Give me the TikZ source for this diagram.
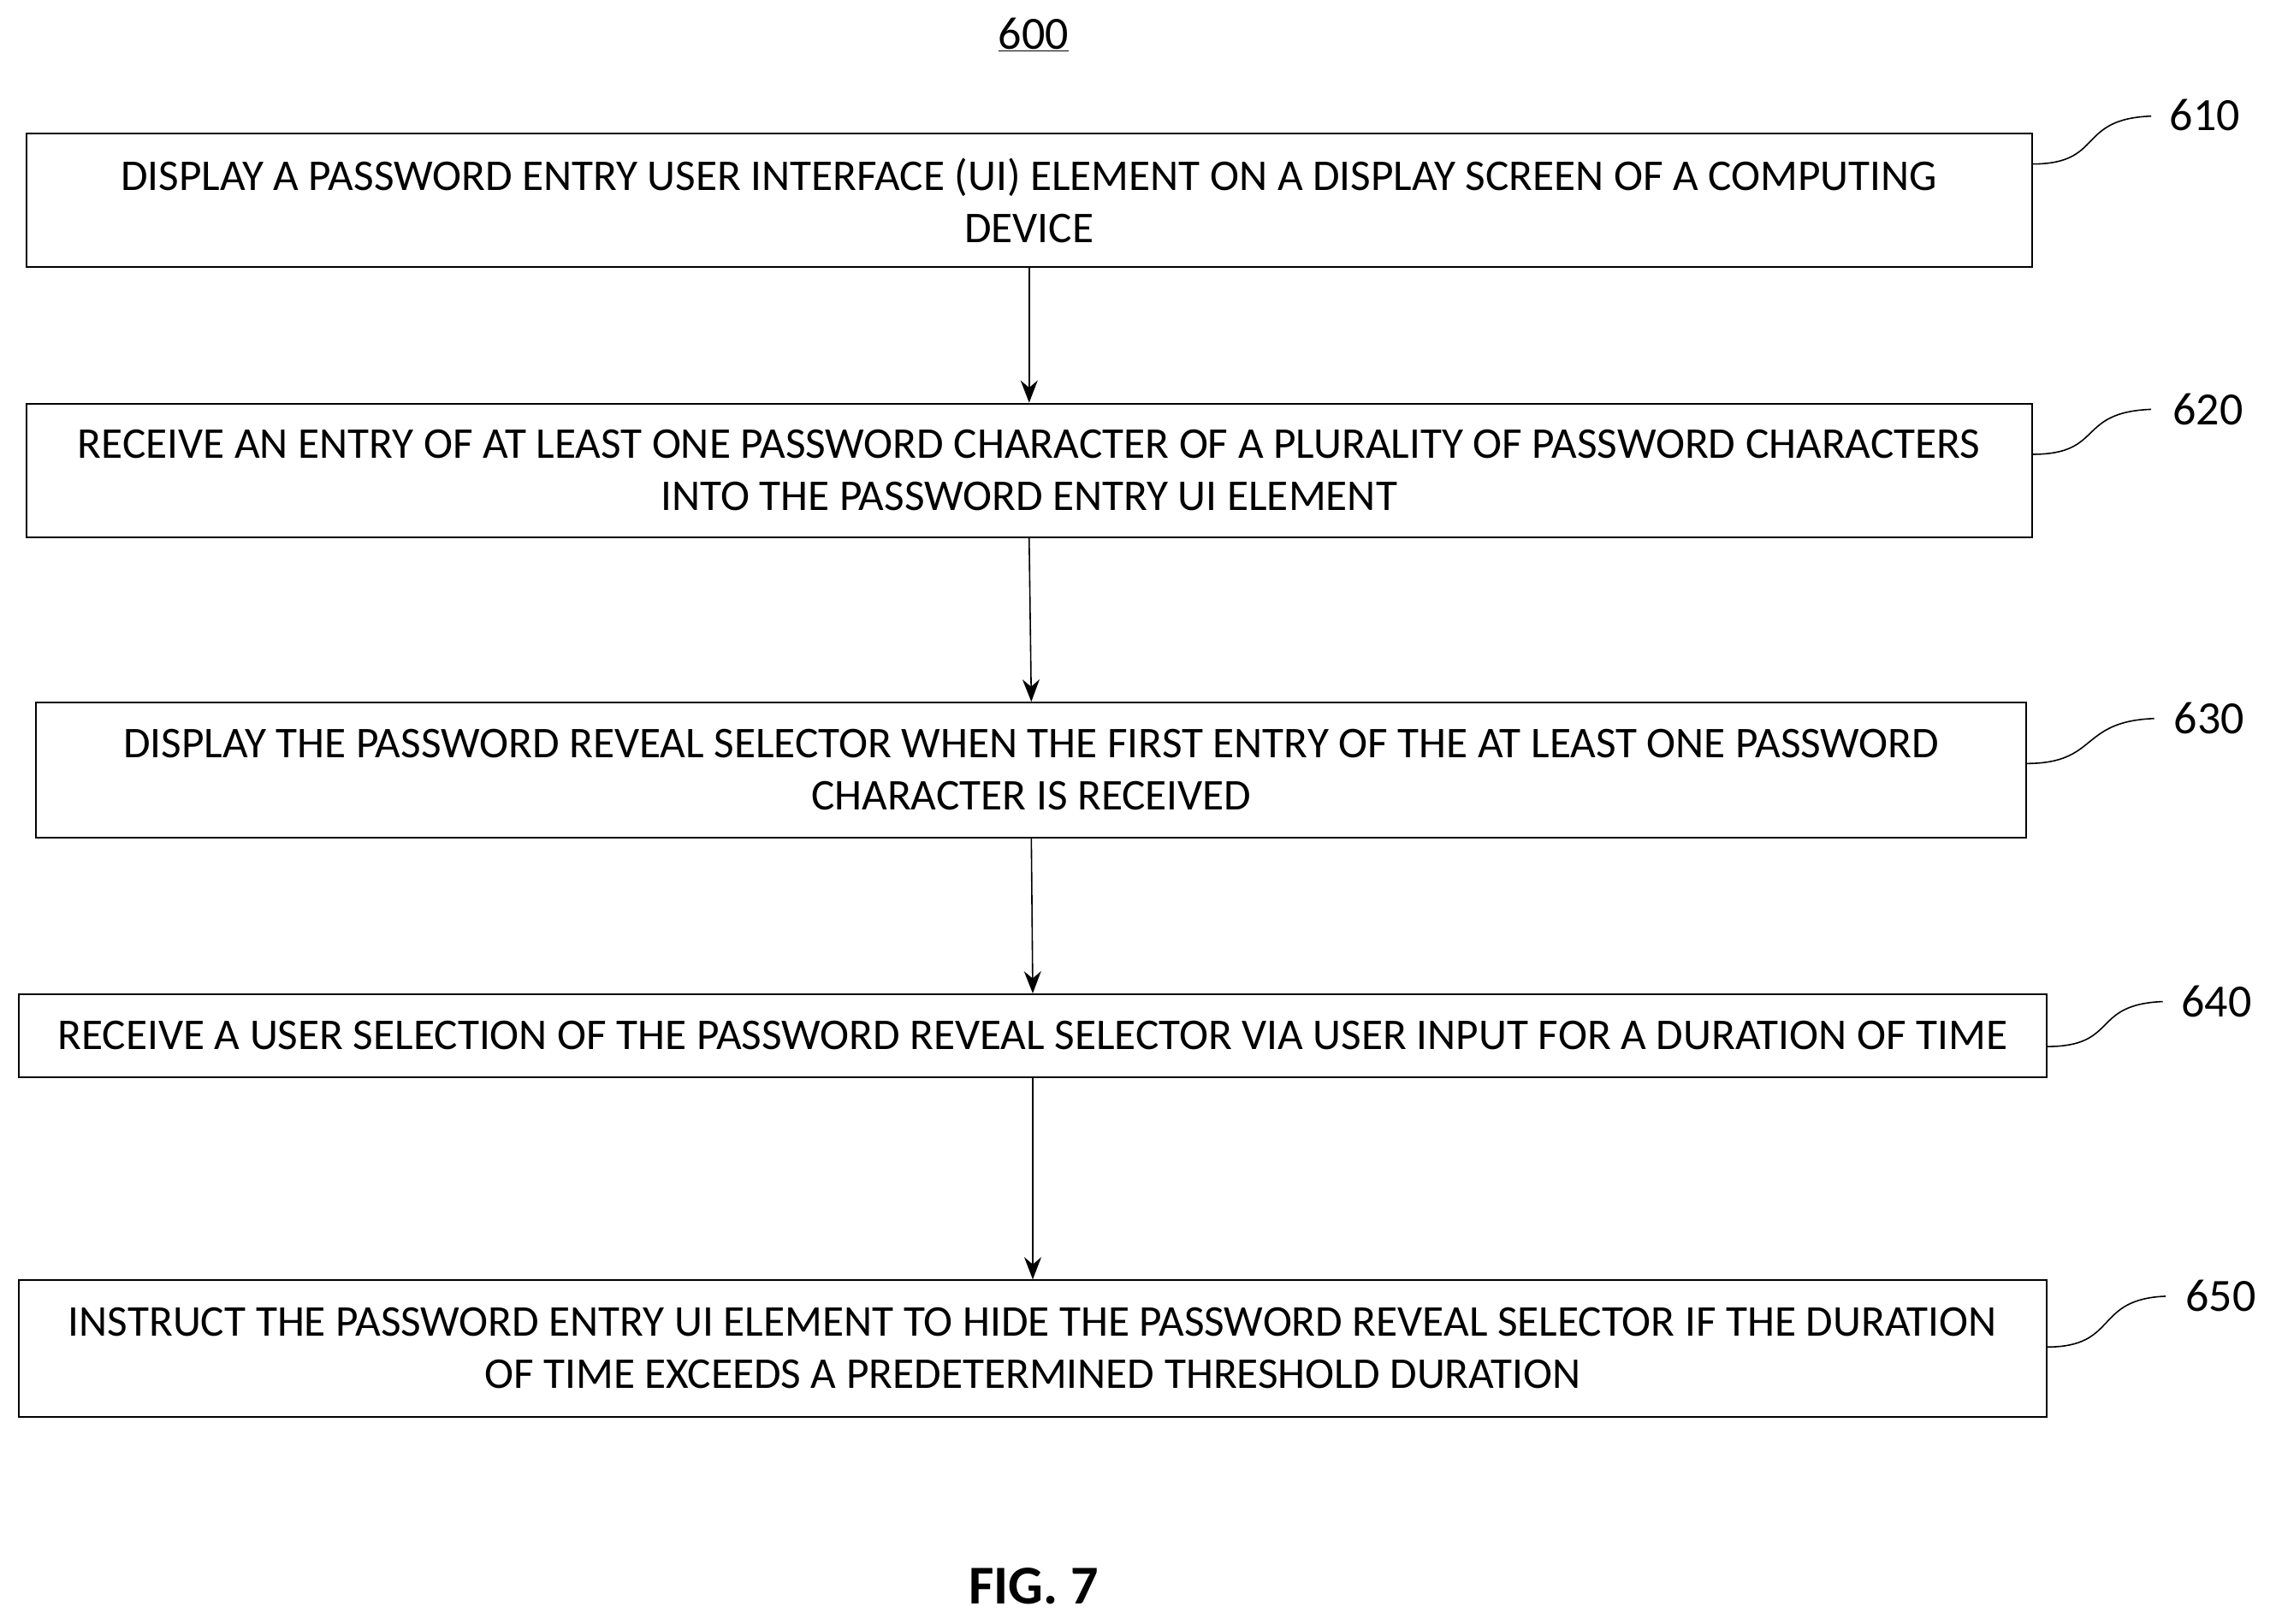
\documentclass[tikz,border=0pt]{standalone}
\usepackage{fontspec}
\usetikzlibrary{arrows.meta}
\setmainfont{Carlito}
\begin{document}
\begin{tikzpicture}[x=1.697pt,y=-1.697pt,
 box/.style={draw,line width=2pt,inner sep=0,align=center,font=\fontsize{51.3}{61}\selectfont},
 lab/.style={font=\fontsize{54}{60}\selectfont},
 arr/.style={draw,line width=1.6pt,-{Stealth[length=26pt,width=20pt]}},
 sq/.style={draw,line width=1.6pt}]
\useasboundingbox (0,0) rectangle (1568,1118.4);
\node[lab] (t) at (712,24) {\underline{600}};
\node[box,minimum width=1382*1.697pt,minimum height=92*1.697pt] (b1) at (709,138) {DISPLAY A PASSWORD ENTRY USER INTERFACE (UI) ELEMENT ON A DISPLAY SCREEN OF A COMPUTING\\DEVICE};
\node[box,minimum width=1382*1.697pt,minimum height=92*1.697pt] (b2) at (709,324) {RECEIVE AN ENTRY OF AT LEAST ONE PASSWORD CHARACTER OF A PLURALITY OF PASSWORD CHARACTERS\\INTO THE PASSWORD ENTRY UI ELEMENT};
\node[box,minimum width=1371*1.697pt,minimum height=93*1.697pt] (b3) at (710.5,530.5) {DISPLAY THE PASSWORD REVEAL SELECTOR WHEN THE FIRST ENTRY OF THE AT LEAST ONE PASSWORD\\CHARACTER IS RECEIVED};
\node[box,minimum width=1397*1.697pt,minimum height=57*1.697pt] (b4) at (711.5,713.5) {RECEIVE A USER SELECTION OF THE PASSWORD REVEAL SELECTOR VIA USER INPUT FOR A DURATION OF TIME};
\node[box,minimum width=1397*1.697pt,minimum height=94*1.697pt] (b5) at (711.5,929) {INSTRUCT THE PASSWORD ENTRY UI ELEMENT TO HIDE THE PASSWORD REVEAL SELECTOR IF THE DURATION\\OF TIME EXCEEDS A PREDETERMINED THRESHOLD DURATION};
\draw[arr] (b1.south) -- (b2.north);
\draw[arr] (b2.south) -- (b3.north);
\draw[arr] (b3.south) -- (b4.north);
\draw[arr] (b4.south) -- (b5.north);
\node[lab] (l1) at (1519,79) {610};
\node[lab] (l2) at (1521,282) {620};
\node[lab] (l3) at (1522,495) {630};
\node[lab] (l4) at (1527,690) {640};
\node[lab] (l5) at (1530,893) {650};
\draw[sq] (1400,113) .. controls (1450,113) and (1430,82) .. (1482,80);
\draw[sq] (1400,313) .. controls (1450,313) and (1430,284) .. (1482,282);
\draw[sq] (1396,526) .. controls (1446,526) and (1432,497) .. (1484,495);
\draw[sq] (1410,721) .. controls (1460,721) and (1440,692) .. (1490,690);
\draw[sq] (1410,928) .. controls (1460,928) and (1442,895) .. (1492,893);
\node[font=\fontsize{64}{70}\selectfont\bfseries] (fig) at (712,1093) {FIG. 7};
\end{tikzpicture}
\end{document}
